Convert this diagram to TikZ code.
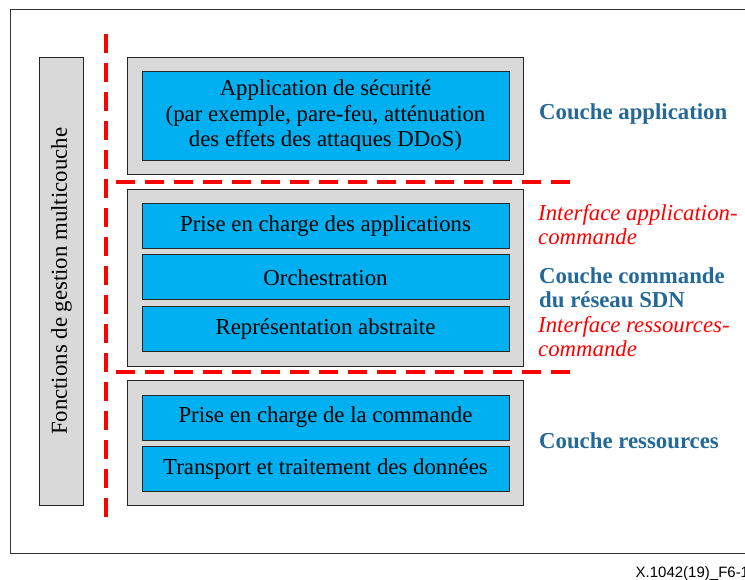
\documentclass[tikz,border=0pt]{standalone}
\usepackage{fontspec}
\setmainfont{Liberation Serif}
\newfontfamily\footfont{Liberation Sans}
\definecolor{boxblue}{RGB}{0,176,240}
\definecolor{layergray}{RGB}{217,217,217}
\definecolor{labelblue}{RGB}{36,104,152}
\definecolor{ifred}{RGB}{255,0,0}
\tikzset{
  mainfont/.style={font=\fontsize{22.8}{25.5}\selectfont},
  layer/.style={draw=black!85, line width=1pt, fill=layergray, inner sep=0pt, minimum width=396pt},
  func/.style={draw=black!85, line width=1pt, fill=boxblue, inner sep=0pt, minimum width=367pt, minimum height=45pt, mainfont, align=center},
  sidebar/.style={draw=black!85, line width=1pt, fill=layergray, inner sep=0pt, minimum width=44pt, minimum height=448.7pt},
  layerlabel/.style={anchor=base west, inner sep=0pt, text=labelblue, font=\fontsize{22.8}{25.5}\selectfont\bfseries},
  iflabel/.style={anchor=base west, inner sep=0pt, text=ifred, font=\fontsize{22.8}{25.5}\selectfont\itshape},
  reddash/.style={draw=ifred, line width=4pt, dash pattern=on 19pt off 10pt},
  frame/.style={draw=black!80, line width=1pt, inner sep=0pt}
}
\begin{document}
\begin{tikzpicture}[x=1pt,y=-1pt]
\useasboundingbox (0,0) rectangle (745,579);
\clip (0,0) rectangle (745,579);
% outer frame
\node[frame, anchor=north west, minimum width=760pt, minimum height=544.6pt] (frame) at (10,8.7) {};
% side bar
\node[sidebar] (mgmt) at (61.5,281.4) {};
\node[mainfont, rotate=90] (mgmttext) at (mgmt.center) {Fonctions de gestion multicouche};
% application layer
\node[layer, minimum height=117pt] (applayer) at (325.6,115.5) {};
\node[func, minimum height=89pt] (secapp) at (325.5,115.5) {Application de sécurité\\(par exemple, pare-feu, atténuation\\des effets des attaques DDoS)};
% control layer
\node[layer, minimum height=177pt] (ctrllayer) at (325.5,277.5) {};
\node[func] (appsupport) at (325.5,226) {Prise en charge des applications};
\node[func] (orch) at (325.5,277.3) {Orchestration};
\node[func] (abstr) at (325.5,329.2) {Représentation abstraite};
% resource layer
\node[layer, minimum height=125.3pt] (reslayer) at (325.5,443.3) {};
\node[func] (ctrlsupport) at (325.5,417.5) {Prise en charge de la commande};
\node[func] (transport) at (325.5,469.2) {Transport et traitement des données};
% dashed boundaries
\coordinate (vtop) at (106,34);
\coordinate (vbot) at (106,524);
\coordinate (h1l) at (116,181.5);
\coordinate (h1r) at (575,181.5);
\coordinate (h2l) at (116,372.3);
\coordinate (h2r) at (575,372.3);
\draw[reddash] (vtop) -- (vbot);
\draw[reddash] (h1l) -- (h1r);
\draw[reddash] (h2l) -- (h2r);
% labels
\node[layerlabel] (lapp) at (539,119) {Couche application};
\node[iflabel] (ifa1) at (538,220) {Interface application-};
\node[iflabel] (ifa2) at (538,244.5) {commande};
\node[layerlabel] (lctrl1) at (539,283) {Couche commande};
\node[layerlabel] (lctrl2) at (539,307.7) {du réseau SDN};
\node[iflabel] (ifr1) at (538,332) {Interface ressources-};
\node[iflabel] (ifr2) at (538,356.7) {commande};
\node[layerlabel] (lres) at (539,448) {Couche ressources};
% footer
\node[anchor=base west, inner sep=0pt, font=\footfont\fontsize{15}{18}\selectfont] (foot) at (635.5,577) {X.1042(19)\_F6-1};
\end{tikzpicture}
\end{document}
